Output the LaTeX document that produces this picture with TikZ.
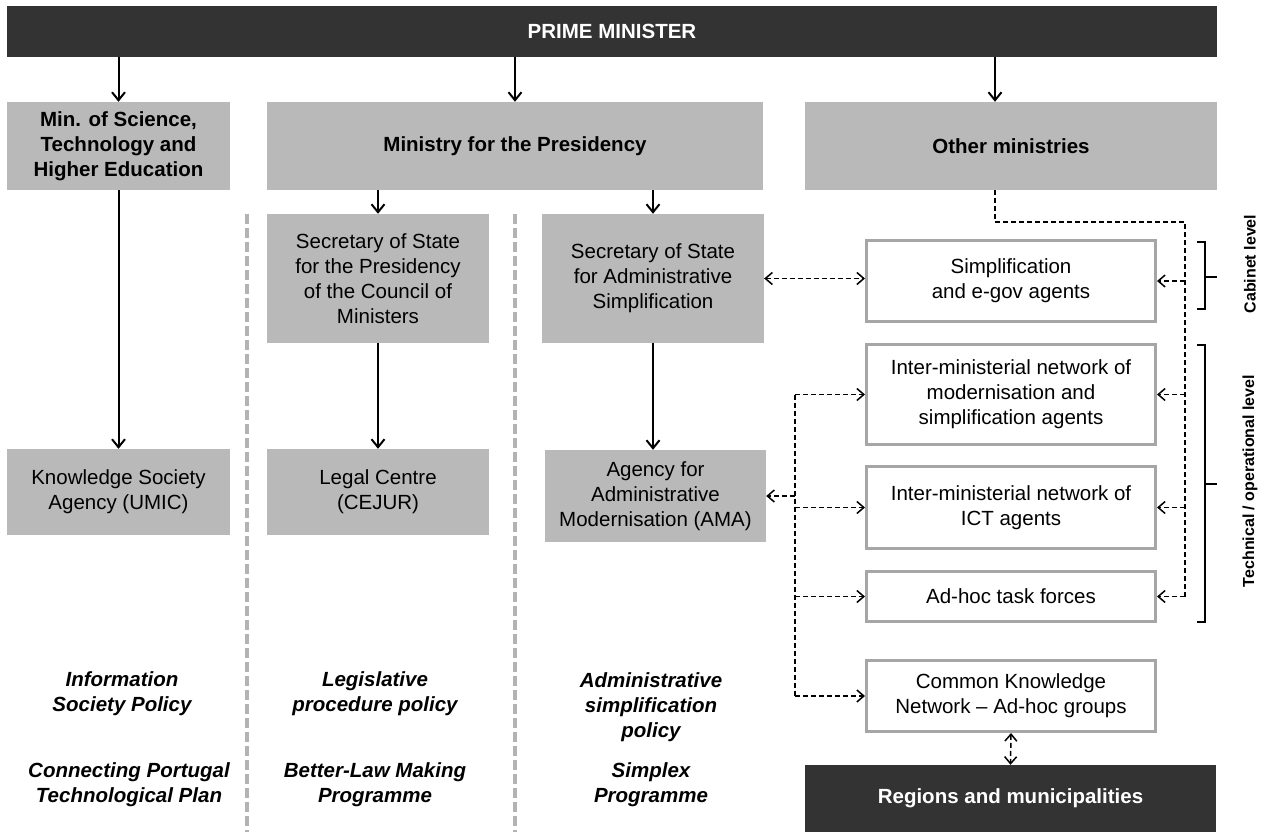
\documentclass[tikz,border=0pt]{standalone}
\usepackage{fontspec}
\setmainfont{Liberation Sans}
\usetikzlibrary{arrows.meta}

\definecolor{barcol}{HTML}{333333}
\definecolor{boxcol}{HTML}{B9B9B9}
\definecolor{framecol}{HTML}{A6A6A6}
\definecolor{sepcol}{HTML}{B3B3B3}

\begin{document}
\begin{tikzpicture}[x=1pt, y=-1pt,
    txt/.style={align=center, font=\fontsize{20.5}{25}\selectfont},
    greybox/.style={txt, fill=boxcol, inner sep=0pt},
    headbox/.style={greybox, font=\fontsize{20.5}{25}\selectfont\bfseries},
    whitebox/.style={txt, draw=framecol, line width=3pt, fill=white, inner sep=0pt, minimum width=289pt},
    darkbar/.style={fill=barcol, text=white, inner sep=0pt, font=\fontsize{20.5}{25}\selectfont\bfseries},
    policy/.style={align=center, font=\fontsize{20.5}{25}\selectfont\bfseries\itshape},
    level/.style={rotate=90, font=\fontsize{16}{19}\selectfont\bfseries},
    solidarrow/.style={line width=2pt, -{Straight Barb[length=8pt, width=13pt]}},
    dashline/.style={line width=1.5pt, dash pattern=on 5pt off 3pt},
    dasharrow/.style={dashline, -{Straight Barb[length=7pt, width=12pt]}},
    dashboth/.style={dashline, {Straight Barb[length=7pt, width=12pt]}-{Straight Barb[length=7pt, width=12pt]}},
    separator/.style={sepcol, line width=3.5pt, dash pattern=on 10pt off 4pt},
    bracket/.style={line width=1.6pt}
]
\useasboundingbox (0,0) rectangle (1270,832);

% Top level
\node[darkbar, minimum width=1210pt, minimum height=51pt] (pm) at (612,31.5) {PRIME MINISTER};

% Ministries
\node[headbox, minimum width=223pt, minimum height=88pt] (mse) at (118.5,146) {Min. of Science,\\Technology and\\Higher Education};
\node[headbox, minimum width=496pt, minimum height=88pt] (mp) at (515,146) {Ministry for the Presidency};
\node[headbox, minimum width=412pt, minimum height=88pt] (om) at (1011,146) {Other ministries};
\coordinate (omtap) at (995,190);

\draw[solidarrow] (pm.south -| mse.north) -- (mse.north);
\draw[solidarrow] (pm.south -| mp.north) -- (mp.north);
\draw[solidarrow] (pm.south -| omtap) -- (om.north -| omtap);

% Secretaries of state
\node[greybox, minimum width=222pt, minimum height=129pt] (sp) at (378,278.5) {Secretary of State\\for the Presidency\\of the Council of\\Ministers};
\node[greybox, minimum width=222pt, minimum height=129pt] (ss) at (653,278.5) {Secretary of State\\for Administrative\\Simplification};

\draw[solidarrow] (mp.south -| sp.north) -- (sp.north);
\draw[solidarrow] (mp.south -| ss.north) -- (ss.north);

% Agencies
\node[greybox, minimum width=223pt, minimum height=86pt] (ksa) at (118.5,492) {Knowledge Society\\Agency (UMIC)};
\node[greybox, minimum width=222pt, minimum height=86pt] (lc) at (378,492) {Legal Centre\\(CEJUR)};
\node[greybox, minimum width=221pt, minimum height=92pt] (ama) at (655.5,496) {Agency for\\Administrative\\Modernisation (AMA)};

\draw[solidarrow] (mse.south) -- (ksa.north);
\draw[solidarrow] (sp.south) -- (lc.north);
\draw[solidarrow] (ss.south) -- (ss.south |- ama.north);

% Column separators
\draw[separator] (247,214) -- (247,832);
\draw[separator] (515,214) -- (515,832);

% Networks
\node[whitebox, minimum height=81pt] (sea) at (1011,281) {Simplification\\and e-gov agents};
\node[whitebox, minimum height=100pt] (imn) at (1011,394.5) {Inter-ministerial network of\\modernisation and\\simplification agents};
\node[whitebox, minimum height=82pt] (ict) at (1011,507.5) {Inter-ministerial network of\\ICT agents};
\node[whitebox, minimum height=50pt] (aht) at (1011,596.5) {Ad-hoc task forces};
\node[whitebox, minimum height=71pt] (ckn) at (1011,696) {Common Knowledge\\Network -- Ad-hoc groups};
\node[darkbar, minimum width=411pt, minimum height=67pt] (reg) at (1010.5,798.5) {Regions and municipalities};

% Dashed links
\coordinate (rbus) at (1185,222);
\coordinate (lbus) at (795,0);
\draw[dashline] (om.south -| omtap) -- (omtap |- rbus) -- (rbus) -- (rbus |- aht.east);
\foreach \b in {sea,imn,ict,aht}
    \draw[dasharrow] (rbus |- \b.east) -- (\b.east);
\draw[dashline] (lbus |- imn.west) -- (lbus |- ckn.west);
\foreach \b in {imn,ict,aht,ckn}
    \draw[dasharrow] (lbus |- \b.west) -- (\b.west);
\draw[dasharrow] (lbus |- ama.east) -- (ama.east);
\draw[dashboth] (ss.east) -- (ss.east -| sea.west);
\draw[dashboth] (ckn.south) -- (reg.north);

% Levels
\draw[bracket] (1197,242) -- (1205,242) -- (1205,309) -- (1197,309);
\draw[bracket] (1205,277) -- (1217,277);
\draw[bracket] (1197,345) -- (1205,345) -- (1205,622) -- (1197,622);
\draw[bracket] (1205,484) -- (1217,484);
\node[level] (cab) at (1250,264) {Cabinet level};
\node[level] (tec) at (1250,481) {Technical / operational level};

% Policies and programmes
\node[policy] (pol1) at (122,694) {Information\\Society Policy};
\node[policy] (pol2) at (375,694) {Legislative\\procedure policy};
\node[policy] (pol3) at (651,707) {Administrative\\simplification\\policy};
\node[policy] (prg1) at (129,784.5) {Connecting Portugal\\Technological Plan};
\node[policy] (prg2) at (375,784.5) {Better-Law Making\\Programme};
\node[policy] (prg3) at (651,784.5) {Simplex\\Programme};
\end{tikzpicture}
\end{document}
